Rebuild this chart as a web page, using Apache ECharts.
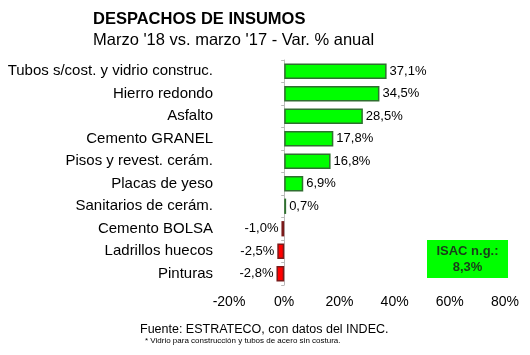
<!DOCTYPE html>
<html><head><meta charset="utf-8">
<script src="https://cdn.jsdelivr.net/npm/echarts@6/dist/echarts.min.js"></script>
<style>html,body{margin:0;padding:0;background:#fff}#c{width:530px;height:355px}</style>
</head><body><div id="c"></div>
<script>
var categories = ["Tubos s/cost. y vidrio construc.","Hierro redondo","Asfalto","Cemento GRANEL","Pisos y revest. cerám.","Placas de yeso","Sanitarios de cerám.","Cemento BOLSA","Ladrillos huecos","Pinturas"];
var values = [37.1, 34.5, 28.5, 17.8, 16.8, 6.9, 0.7, -1.0, -2.5, -2.8];
var xTicks = [-20, 0, 20, 40, 60, 80];
var isacLabel = "ISAC n.g.:";
var isacValue = "8,3%";

var FONT = "'Liberation Sans', Arial, sans-serif";
function fmt(v){ return v.toFixed(1).replace('.', ',') + '%'; }

var cats = categories.slice().reverse();
var vals = values.slice().reverse();

var chart = echarts.init(document.getElementById('c'), null, {renderer:'canvas'});
chart.setOption({
  animation:false,
  backgroundColor:'#fff',
  grid:{left:229, right:25, top:60, bottom:70, containLabel:false},
  title:[
    {text:'DESPACHOS DE INSUMOS', left:88, top:6, textStyle:{fontFamily:FONT, fontSize:16.5, fontWeight:'bold', color:'#000'}},
    {text:"Marzo '18 vs. marzo '17 - Var. % anual", left:88, top:27, textStyle:{fontFamily:FONT, fontSize:16.5, fontWeight:'normal', color:'#000'}},
    {text:'Fuente: ESTRATECO, con datos del INDEC.', left:135, top:318, textStyle:{fontFamily:FONT, fontSize:12.5, fontWeight:'normal', color:'#000'}},
    {text:'* Vidrio para construcción y tubos de acero sin costura.', left:140, top:332, textStyle:{fontFamily:FONT, fontSize:8, fontWeight:'normal', color:'#000'}}
  ],
  xAxis:{
    type:'value', min:xTicks[0], max:xTicks[xTicks.length-1], interval:20,
    axisLine:{show:false}, axisTick:{show:false}, splitLine:{show:false},
    axisLabel:{formatter:'{value}%', fontFamily:FONT, fontSize:14, color:'#000', margin:10}
  },
  yAxis:[
    {type:'category', data:cats, position:'left', axisLine:{show:false, onZero:false}, axisTick:{show:false},
     axisLabel:{fontFamily:FONT, fontSize:15, color:'#000', margin:16}},
    {type:'category', data:cats, position:'left', axisLine:{show:true, onZero:true, onZeroAxisIndex:0, lineStyle:{color:'#bbb', width:1}},
     axisTick:{show:true, length:3, lineStyle:{color:'#bbb'}}, axisLabel:{show:false}}
  ],
  series:[{
    type:'bar', yAxisIndex:0, barCategoryGap:'32%',
    data: vals.map(function(v){
      return {value:v,
        itemStyle:{color: v>=0 ? '#00ff00' : '#ff0000', borderColor: v>=0 ? '#2f6f2f' : '#7a1a1a', borderWidth:1.5},
        label:{position: v>=0 ? 'right' : 'left'}};
    }),
    label:{show:true, formatter:function(p){return fmt(p.value);}, fontFamily:FONT, fontSize:13, color:'#000', distance:3}
  }],
  graphic:[
    {type:'group', left:427, top:240, children:[
      {type:'rect', shape:{x:0,y:0,width:81,height:38}, style:{fill:'#00ff00'}},
      {type:'text', style:{x:40.5, y:5, text:isacLabel, textAlign:'center', font:'bold 13px '+FONT, fill:'#1a3a1a'}},
      {type:'text', style:{x:40.5, y:21, text:isacValue, textAlign:'center', font:'bold 13px '+FONT, fill:'#1a3a1a'}}
    ]}
  ]
});
</script></body></html>
